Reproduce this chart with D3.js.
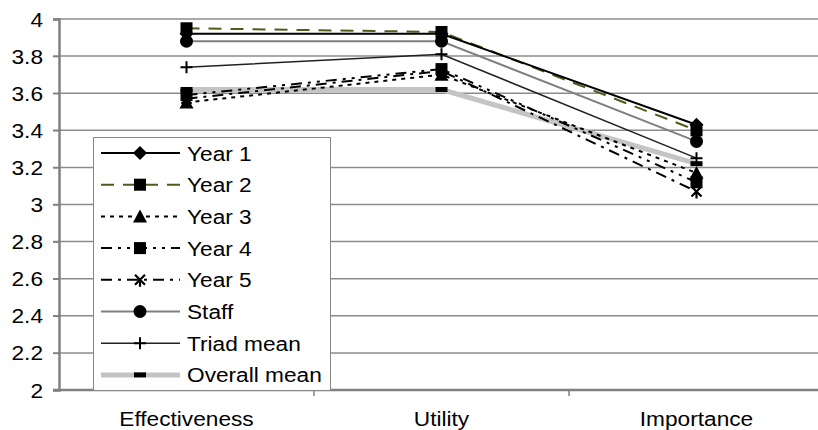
<!DOCTYPE html>
<html>
<head>
<meta charset="utf-8">
<script src="https://cdn.jsdelivr.net/npm/d3@7"></script>
<style>
  body { margin: 0; background: #fff; }
  svg text { font-family: "Liberation Sans", Arial, sans-serif; fill: #000; }
</style>
</head>
<body>
<div id="chart"></div>
<script>
var categories = ["Effectiveness", "Utility", "Importance"];
var year1   = [3.92, 3.92, 3.43];
var year2   = [3.95, 3.93, 3.40];
var year3   = [3.55, 3.70, 3.17];
var year4   = [3.59, 3.73, 3.12];
var year5   = [3.57, 3.72, 3.07];
var staff   = [3.88, 3.88, 3.34];
var triad   = [3.74, 3.81, 3.25];
var overall = [3.62, 3.62, 3.22];
var yTicks  = [2, 2.2, 2.4, 2.6, 2.8, 3, 3.2, 3.4, 3.6, 3.8, 4];

var series = [
  {name: "Overall mean", values: overall, color: "#c4c4c4", width: 5, dash: null, marker: "dash"},
  {name: "Triad mean", values: triad, color: "#222", width: 1.5, dash: null, marker: "plus"},
  {name: "Staff", values: staff, color: "#808080", width: 2, dash: null, marker: "circle"},
  {name: "Year 5", values: year5, color: "#000", width: 2, dash: "11,6,3,6", marker: "star"},
  {name: "Year 4", values: year4, color: "#000", width: 2, dash: "11,6,3,6,3,6", marker: "square"},
  {name: "Year 3", values: year3, color: "#000", width: 2, dash: "4,5", marker: "triangle"},
  {name: "Year 2", values: year2, color: "#4f5c1a", width: 2, dash: "13,9", marker: "square"},
  {name: "Year 1", values: year1, color: "#000", width: 2, dash: null, marker: "diamond"}
];
var legendOrder = ["Year 1", "Year 2", "Year 3", "Year 4", "Year 5", "Staff", "Triad mean", "Overall mean"];

var W = 818, H = 430;
var stretch = 1.08;   // the source text is a bit wider than Arial
var svg = d3.select("#chart").append("svg")
  .attr("width", W).attr("height", H);

var x = d3.scaleBand().domain(categories).range([59, 824]);
var y = d3.scaleLinear().domain([2, 4]).range([390, 19]);

// gridlines
svg.append("g").selectAll("line")
  .data(yTicks.filter(d => d > 2))
  .enter().append("line")
  .attr("x1", 53).attr("x2", W)
  .attr("y1", d => y(d)).attr("y2", d => y(d))
  .attr("stroke", "#8c8c8c").attr("stroke-width", 1.5);

// y axis (line + ticks from d3, labels drawn by hand so they can be stretched)
var yAxis = d3.axisLeft(y).tickValues(yTicks).tickSize(6).tickFormat("");
var gy = svg.append("g").attr("transform", "translate(59,0)").call(yAxis);
gy.select(".domain").attr("stroke", "#808080").attr("stroke-width", 2.5);
gy.selectAll(".tick line").attr("stroke", "#808080").attr("stroke-width", 1.5);
svg.append("g").selectAll("text")
  .data(yTicks)
  .enter().append("text")
  .attr("transform", d => "translate(43," + (y(d) + 7.5) + ") scale(" + stretch + ",1)")
  .attr("text-anchor", "end")
  .style("font-size", "21px")
  .text(d => +d.toFixed(1));

// x axis
svg.append("line").attr("x1", 53).attr("x2", W)
  .attr("y1", y(2)).attr("y2", y(2))
  .attr("stroke", "#808080").attr("stroke-width", 2.5);
svg.append("g").selectAll("line")
  .data(categories.slice(1))
  .enter().append("line")
  .attr("x1", d => x(d)).attr("x2", d => x(d))
  .attr("y1", y(2)).attr("y2", y(2) + 6)
  .attr("stroke", "#808080").attr("stroke-width", 1.5);
svg.append("g").selectAll("text")
  .data(categories)
  .enter().append("text")
  .attr("transform", d => "translate(" + (x(d) + x.bandwidth() / 2) + ",426) scale(" + stretch + ",1)")
  .attr("text-anchor", "middle")
  .style("font-size", "21px")
  .text(d => d);

function drawMarker(g, type, cx, cy) {
  if (type == "diamond") {
    g.append("path").attr("d", "M" + cx + "," + (cy - 7) + "L" + (cx + 7) + "," + cy + "L" + cx + "," + (cy + 7) + "L" + (cx - 7) + "," + cy + "Z").attr("fill", "#000");
  } else if (type == "square") {
    g.append("rect").attr("x", cx - 6).attr("y", cy - 6).attr("width", 12).attr("height", 12).attr("fill", "#000");
  } else if (type == "triangle") {
    g.append("path").attr("d", "M" + cx + "," + (cy - 7) + "L" + (cx + 7) + "," + (cy + 6) + "L" + (cx - 7) + "," + (cy + 6) + "Z").attr("fill", "#000");
  } else if (type == "circle") {
    g.append("circle").attr("cx", cx).attr("cy", cy).attr("r", 6.5).attr("fill", "#000");
  } else if (type == "plus") {
    g.append("path").attr("d", "M" + (cx - 6) + "," + cy + "H" + (cx + 6) + "M" + cx + "," + (cy - 6) + "V" + (cy + 6))
      .attr("stroke", "#000").attr("stroke-width", 2);
  } else if (type == "star") {
    g.append("path").attr("d", "M" + (cx - 5) + "," + (cy - 5) + "L" + (cx + 5) + "," + (cy + 5) + "M" + (cx + 5) + "," + (cy - 5) + "L" + (cx - 5) + "," + (cy + 5) + "M" + cx + "," + cy + "V" + (cy + 7))
      .attr("stroke", "#000").attr("stroke-width", 2.2);
  } else if (type == "dash") {
    g.append("rect").attr("x", cx - 6).attr("y", cy - 2.5).attr("width", 12).attr("height", 5).attr("fill", "#000");
  }
}

var line = d3.line()
  .x((d, i) => x(categories[i]) + x.bandwidth() / 2)
  .y(d => y(d));

var plot = svg.append("g");
series.forEach(function(s) {
  plot.append("path")
    .attr("d", line(s.values))
    .attr("fill", "none")
    .attr("stroke", s.color)
    .attr("stroke-width", s.width)
    .attr("stroke-dasharray", s.dash);
});
series.forEach(function(s) {
  var g = plot.append("g");
  s.values.forEach(function(v, i) {
    drawMarker(g, s.marker, x(categories[i]) + x.bandwidth() / 2, y(v));
  });
});

// legend
var legend = svg.append("g");
legend.append("rect").attr("x", 93.5).attr("y", 137.5).attr("width", 237).attr("height", 253)
  .attr("fill", "#fff").attr("stroke", "#888").attr("stroke-width", 1);
legendOrder.forEach(function(name, i) {
  var s = series.find(d => d.name == name);
  var ly = 153 + i * 31.7;
  var g = legend.append("g");
  g.append("line").attr("x1", 101).attr("x2", 180).attr("y1", ly).attr("y2", ly)
    .attr("stroke", s.color).attr("stroke-width", s.width)
    .attr("stroke-dasharray", s.dash);
  drawMarker(g, s.marker, 140, ly);
  g.append("text")
    .attr("transform", "translate(187," + (ly + 7.5) + ") scale(" + stretch + ",1)")
    .style("font-size", "21px")
    .text(s.name);
});
</script>
</body>
</html>
